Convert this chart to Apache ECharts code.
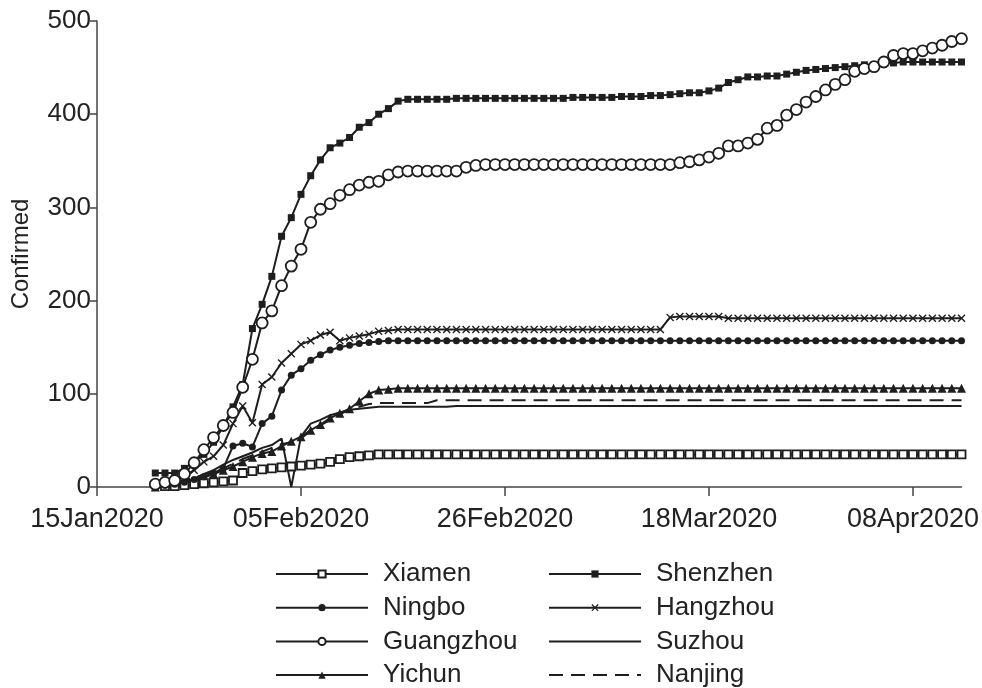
<!DOCTYPE html>
<html>
<head>
<meta charset="utf-8">
<script src="https://cdn.jsdelivr.net/npm/echarts@6/dist/echarts.min.js"></script>
<style>
html,body{margin:0;padding:0;background:#fff;}
#chart{width:982px;height:688px;}
</style>
</head>
<body>
<div id="chart"></div>
<script>
// Day offset (days since 15Jan2020) of the first value in every series: 21Jan2020
var firstDay = 6;
// x-axis tick positions (days since 15Jan2020) and their labels
var tickDays = [0, 21, 42, 63, 84];
var tickLabels = ['15Jan2020', '05Feb2020', '26Feb2020', '18Mar2020', '08Apr2020'];

var cities = ['Xiamen', 'Shenzhen', 'Ningbo', 'Hangzhou', 'Guangzhou', 'Suzhou', 'Yichun', 'Nanjing'];

// Daily cumulative confirmed, 21Jan2020 .. 13Apr2020 (84 days)
var xiamen = [
  null,1,1,2,3,4,5,6,7,15,17,
  19,20,21,22,23,24,25,27,30,32,33,34,35,35,35,35,35,35,35,35,35,35,35,35,35,35,35,35,35,
  35,35,35,35,35,35,35,35,35,35,35,35,35,35,35,35,35,35,35,35,35,35,35,35,35,35,35,35,35,35,35,
  35,35,35,35,35,35,35,35,35,35,35,35,35
];
var shenzhen = [
  15,15,15,20,27,35,48,65,86,110,170,
  196,226,269,289,314,334,351,364,369,375,386,391,400,406,414,416,416,416,416,416,417,417,417,417,417,417,417,417,417,
  417,417,417,418,418,418,418,418,419,419,419,420,420,421,422,423,423,425,428,434,437,440,440,441,441,443,445,447,448,449,450,
  451,452,453,453,455,455,456,456,456,456,456,456,456
];
var ningbo = [
  1,2,3,5,8,11,15,20,44,47,43,
  68,76,104,120,127,136,142,147,150,152,154,155,156,157,157,157,157,157,157,157,157,157,157,157,157,157,157,157,157,
  157,157,157,157,157,157,157,157,157,157,157,157,157,157,157,157,157,157,157,157,157,157,157,157,157,157,157,157,157,157,157,
  157,157,157,157,157,157,157,157,157,157,157,157,157
];
var hangzhou = [
  2,4,8,12,18,27,33,45,68,87,69,
  110,118,133,143,153,157,163,166,157,160,162,164,167,168,169,169,169,169,169,169,169,169,169,169,169,169,169,169,169,
  169,169,169,169,169,169,169,169,169,169,169,169,169,182,183,183,183,183,183,181,181,181,181,181,181,181,181,181,181,181,181,
  181,181,181,181,181,181,181,181,181,181,181,181,181
];
var guangzhou = [
  3,5,7,14,26,40,53,66,80,107,137,
  176,189,216,237,255,284,298,304,313,319,324,327,328,335,338,339,339,339,339,339,339,343,345,346,346,346,346,346,346,
  346,346,346,346,346,346,346,346,346,346,346,346,346,346,348,349,351,354,358,366,366,369,373,385,388,399,405,413,419,426,432,
  437,446,449,451,456,463,465,465,468,471,474,478,481
];
var suzhou = [
  0,1,3,5,9,14,18,24,29,33,37,
  42,45,52,0,54,68,72,77,80,83,84,85,86,86,86,86,86,86,86,86,87,87,87,87,87,87,87,87,87,
  87,87,87,87,87,87,87,87,87,87,87,87,87,87,87,87,87,87,87,87,87,87,87,87,87,87,87,87,87,87,87,
  87,87,87,87,87,87,87,87,87,87,87,87,87
];
var yichun = [
  0,1,2,3,6,10,14,18,22,27,32,
  36,38,44,49,54,61,67,74,79,84,92,100,104,105,106,106,106,106,106,106,106,106,106,106,106,106,106,106,106,
  106,106,106,106,106,106,106,106,106,106,106,106,106,106,106,106,106,106,106,106,106,106,106,106,106,106,106,106,106,106,106,
  106,106,106,106,106,106,106,106,106,106,106,106,106
];
var nanjing = [
  0,2,4,7,10,13,16,20,25,30,34,
  38,42,46,48,52,60,66,72,78,83,86,89,90,90,90,90,90,90,93,93,93,93,93,93,93,93,93,93,93,
  93,93,93,93,93,93,93,93,93,93,93,93,93,93,93,93,93,93,93,93,93,93,93,93,93,93,93,93,93,93,93,
  93,93,93,93,93,93,93,93,93,93,93,93,93
];

function toPoints(arr) {
  var out = [];
  for (var i = 0; i < arr.length; i++) {
    if (arr[i] !== null) out.push([firstDay + i, arr[i]]);
  }
  return out;
}

var INK = '#1e1e1e';
var FONT = "'Liberation Sans', Arial, Helvetica, sans-serif";
var xPath = 'path://M0,1.2 L1.2,0 L5,3.8 L8.8,0 L10,1.2 L6.2,5 L10,8.8 L8.8,10 L5,6.2 L1.2,10 L0,8.8 L3.8,5 Z';

function lineSeries(name, data, symbol, size, hollow, dashed) {
  var itemStyle;
  if (symbol === 'none') itemStyle = { color: 'rgba(0,0,0,0)', borderWidth: 0, opacity: 0 };
  else if (hollow) itemStyle = { color: '#fff', borderColor: INK, borderWidth: 1.8 };
  else itemStyle = { color: INK, borderWidth: 0 };
  return {
    name: name,
    type: 'line',
    data: toPoints(data),
    symbol: symbol,
    symbolSize: size,
    showSymbol: symbol !== 'none',
    animation: false,
    lineStyle: { color: INK, width: 2, type: dashed ? [14, 8] : 'solid' },
    itemStyle: itemStyle,
    emphasis: { disabled: true }
  };
}

var chart = echarts.init(document.getElementById('chart'), null, { renderer: 'canvas' });

var legendText = { fontSize: 26, color: '#222', fontFamily: FONT, padding: [0, 0, 0, 10] };

chart.setOption({
  backgroundColor: '#fff',
  animation: false,
  textStyle: { fontFamily: FONT },
  grid: { left: 97, right: 14, top: 21, bottom: 201, containLabel: false },
  xAxis: {
    type: 'value',
    min: 0,
    max: 89,
    interval: 21,
    axisLine: { show: true, lineStyle: { color: '#444', width: 1.5 } },
    axisTick: { show: true, length: 9, lineStyle: { color: '#444', width: 1.5 }, customValues: tickDays },
    axisLabel: {
      customValues: tickDays,
      margin: 19,
      fontSize: 27,
      color: '#222',
      fontFamily: FONT,
      formatter: function (v) {
        var k = tickDays.indexOf(Math.round(v));
        return k >= 0 ? tickLabels[k] : '';
      }
    },
    splitLine: { show: false }
  },
  yAxis: {
    type: 'value',
    min: 0,
    max: 500,
    interval: 100,
    name: 'Confirmed',
    nameLocation: 'middle',
    nameGap: 64,
    nameRotate: 90,
    nameTextStyle: { fontSize: 24, color: '#222', fontFamily: FONT },
    axisLine: { show: true, lineStyle: { color: '#444', width: 1.5 } },
    axisTick: { show: true, length: 7, lineStyle: { color: '#444', width: 1.5 } },
    axisLabel: { fontSize: 26, color: '#222', fontFamily: FONT, margin: 6 },
    splitLine: { show: false }
  },
  legend: [
    {
      orient: 'vertical', left: 275, top: 561, height: 160, padding: 0,
      itemWidth: 92, itemHeight: 9, itemGap: 7.7,
      textStyle: legendText, selectedMode: false,
      data: ['Xiamen', 'Ningbo', 'Guangzhou', 'Yichun']
    },
    {
      orient: 'vertical', left: 548, top: 561, height: 160, padding: 0,
      itemWidth: 92, itemHeight: 9, itemGap: 7.7,
      textStyle: legendText, selectedMode: false,
      data: ['Shenzhen', 'Hangzhou', 'Suzhou', 'Nanjing']
    }
  ],
  series: [
    lineSeries('Suzhou', suzhou, 'none', 0, false, false),
    lineSeries('Nanjing', nanjing, 'none', 0, false, true),
    lineSeries('Yichun', yichun, 'triangle', 9, false, false),
    lineSeries('Xiamen', xiamen, 'rect', 8, true, false),
    lineSeries('Ningbo', ningbo, 'circle', 7, false, false),
    lineSeries('Hangzhou', hangzhou, xPath, 8, false, false),
    lineSeries('Shenzhen', shenzhen, 'rect', 7, false, false),
    lineSeries('Guangzhou', guangzhou, 'circle', 11, true, false)
  ]
});
</script>
</body>
</html>
